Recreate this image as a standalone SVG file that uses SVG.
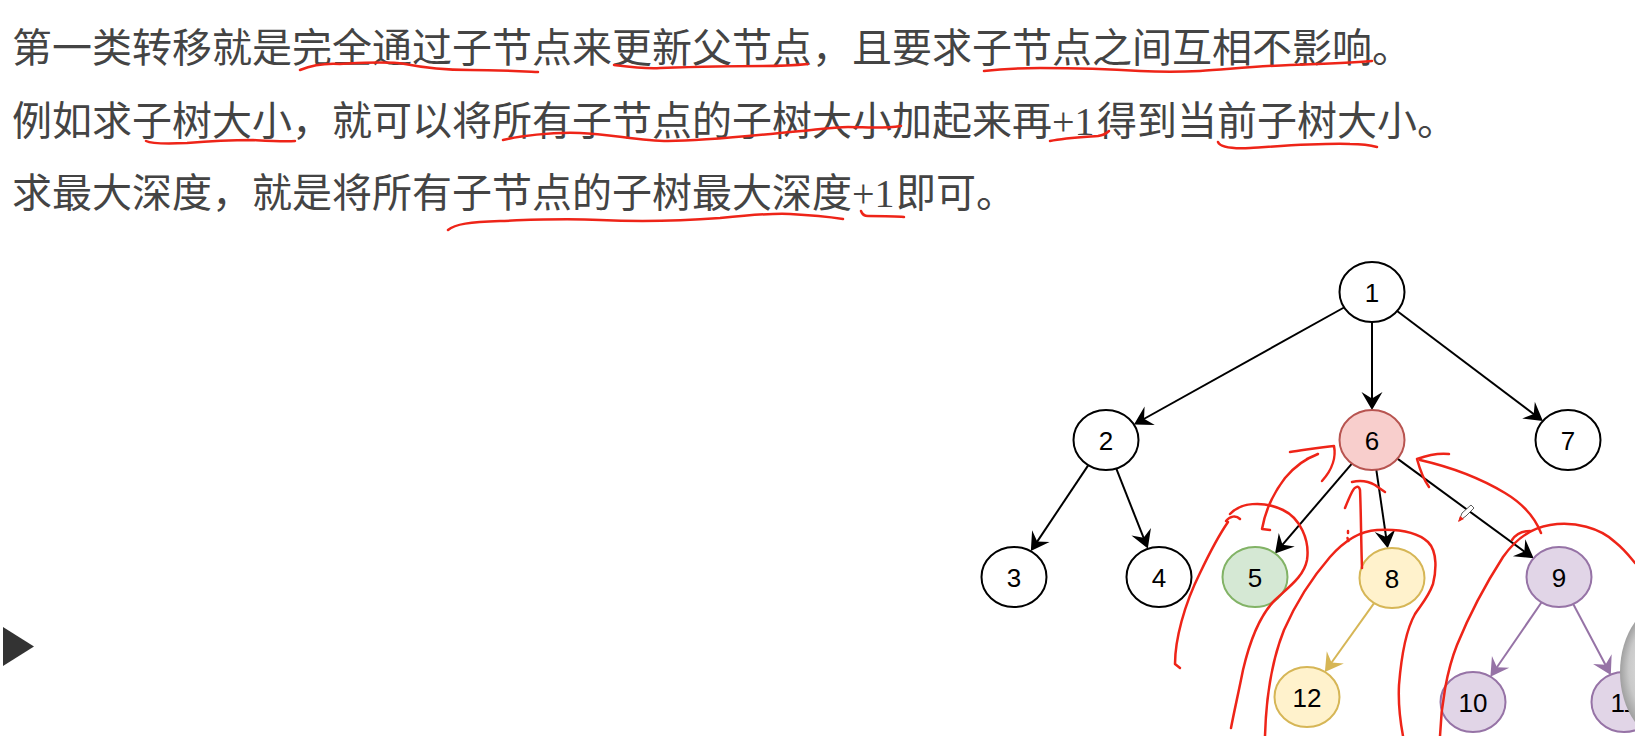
<svg xmlns="http://www.w3.org/2000/svg" width="1635" height="736" viewBox="0 0 1635 736">
<defs>
<style>
.txt{font-family:"Noto Sans CJK SC","Noto Sans CJK TC",sans-serif;font-size:40px;fill:#444}
.lat{font-family:"Liberation Serif",serif}
.node ellipse{stroke-width:2}
.lbl{font-family:"Liberation Sans",Arial,sans-serif;font-size:26px;fill:#000;text-anchor:middle}
.edge{fill:none;stroke-width:2}
.ink{fill:none;stroke:#ee2418;stroke-width:2.5;stroke-linecap:round;stroke-linejoin:round}
</style>
<marker id="ab" markerUnits="userSpaceOnUse" viewBox="-18 -12 24 24" markerWidth="24" markerHeight="24" refX="0" refY="0" orient="auto"><path d="M3,0 L-15,-10.5 L-8.5,0 L-15,10.5 Z" fill="#000"/></marker>
<marker id="ay" markerUnits="userSpaceOnUse" viewBox="-18 -12 24 24" markerWidth="24" markerHeight="24" refX="0" refY="0" orient="auto"><path d="M3,0 L-15,-10.5 L-8.5,0 L-15,10.5 Z" fill="#d6b656"/></marker>
<marker id="ap" markerUnits="userSpaceOnUse" viewBox="-18 -12 24 24" markerWidth="24" markerHeight="24" refX="0" refY="0" orient="auto"><path d="M3,0 L-15,-10.5 L-8.5,0 L-15,10.5 Z" fill="#9673a6"/></marker>
<radialGradient id="sph" cx="0.5" cy="0.5" r="0.5" fx="0.35" fy="0.4">
<stop offset="0" stop-color="#ececec"/>
<stop offset="0.75" stop-color="#c9c9c9"/>
<stop offset="1" stop-color="#a0a0a0"/>
</radialGradient>
</defs>
<rect width="1635" height="736" fill="#fff"/>

<g id="text">
<text class="txt" x="12" y="62">第一类转移就是完全通过子节点来更新父节点，且要求子节点之间互相不影响。</text>
<text class="txt" x="12" y="134.5">例如求子树大小，就可以将所有子节点的子树大小加起来再<tspan class="lat">+1</tspan><tspan x="1097">得到当前子树大小。</tspan></text>
<text class="txt" x="12" y="206.5">求最大深度，就是将所有子节点的子树最大深度<tspan class="lat">+1</tspan><tspan x="896">即可。</tspan></text>
</g>

<polygon id="play" points="3,627 34,646.5 3,666" fill="#333"/>

<g id="connectors">
<line class="edge" stroke="#000" x1="1344" y1="307.5" x2="1136.6" y2="423" marker-end="url(#ab)"/>
<line class="edge" stroke="#000" x1="1372" y1="322" x2="1372" y2="407" marker-end="url(#ab)"/>
<line class="edge" stroke="#000" x1="1397.1" y1="311" x2="1540.5" y2="419.2" marker-end="url(#ab)"/>
<line class="edge" stroke="#000" x1="1088" y1="465.6" x2="1032.5" y2="548.6" marker-end="url(#ab)"/>
<line class="edge" stroke="#000" x1="1116.1" y1="468.2" x2="1146.7" y2="545.7" marker-end="url(#ab)"/>
<line class="edge" stroke="#000" x1="1351.9" y1="463.6" x2="1277" y2="551.1" marker-end="url(#ab)"/>
<line class="edge" stroke="#000" x1="1376.3" y1="469.7" x2="1387.3" y2="545.3" marker-end="url(#ab)"/>
<line class="edge" stroke="#000" x1="1397.4" y1="458.6" x2="1531.2" y2="556.6" marker-end="url(#ab)"/>
<line class="edge" stroke="#d6b656" x1="1374.1" y1="603.1" x2="1326.6" y2="669.5" marker-end="url(#ay)"/>
<line class="edge" stroke="#9673a6" x1="1541.6" y1="602.3" x2="1492.1" y2="674.2" marker-end="url(#ap)"/>
<line class="edge" stroke="#9673a6" x1="1573.2" y1="604" x2="1609.4" y2="672.3" marker-end="url(#ap)"/>
</g>

<g id="n1" class="node"><ellipse cx="1372" cy="292" rx="32.5" ry="30" fill="#fff" stroke="#000"/><text class="lbl" x="1372" y="301.5">1</text></g>
<g id="n2" class="node"><ellipse cx="1106" cy="440" rx="32.5" ry="30" fill="#fff" stroke="#000"/><text class="lbl" x="1106" y="449.5">2</text></g>
<g id="n6" class="node"><ellipse cx="1372" cy="440" rx="32.5" ry="30" fill="#f8cecc" stroke="#b85450"/><text class="lbl" x="1372" y="449.5">6</text></g>
<g id="n7" class="node"><ellipse cx="1568" cy="440" rx="32.5" ry="30" fill="#fff" stroke="#000"/><text class="lbl" x="1568" y="449.5">7</text></g>
<g id="n3" class="node"><ellipse cx="1014" cy="577" rx="32.5" ry="30" fill="#fff" stroke="#000"/><text class="lbl" x="1014" y="586.5">3</text></g>
<g id="n4" class="node"><ellipse cx="1159" cy="577" rx="32.5" ry="30" fill="#fff" stroke="#000"/><text class="lbl" x="1159" y="586.5">4</text></g>
<g id="n5" class="node"><ellipse cx="1255" cy="577" rx="32.5" ry="30" fill="#d5e8d4" stroke="#82b366"/><text class="lbl" x="1255" y="586.5">5</text></g>
<g id="n8" class="node"><ellipse cx="1392" cy="578" rx="32.5" ry="30" fill="#fff2cc" stroke="#d6b656"/><text class="lbl" x="1392" y="587.5">8</text></g>
<g id="n9" class="node"><ellipse cx="1559" cy="577" rx="32.5" ry="30" fill="#e1d5e7" stroke="#9673a6"/><text class="lbl" x="1559" y="586.5">9</text></g>
<g id="n12" class="node"><ellipse cx="1307" cy="697" rx="32.5" ry="30" fill="#fff2cc" stroke="#d6b656"/><text class="lbl" x="1307" y="706.5">12</text></g>
<g id="n10" class="node"><ellipse cx="1473" cy="702" rx="32.5" ry="30" fill="#e1d5e7" stroke="#9673a6"/><text class="lbl" x="1473" y="711.5">10</text></g>
<g id="n11" class="node"><ellipse cx="1624" cy="702" rx="32.5" ry="30" fill="#e1d5e7" stroke="#9673a6"/><text class="lbl" x="1624" y="711.5">11</text></g>

<ellipse id="sphere" cx="1670" cy="672" rx="50" ry="70" fill="url(#sph)"/>

<g id="ink">
<path class="ink" d="M300,70 C310,66 325,63 340,64 C360,63 385,61 405,64 C420,67 440,70 470,70 C495,70 515,71 538,72"/>
<path class="ink" d="M614,65 C630,67 645,69 660,68 C690,67 730,66 763,66 C785,66 798,65 808,64"/>
<path class="ink" d="M984,71 C1000,69 1020,68 1040,68 C1080,68 1110,69 1140,71 C1160,72 1180,72 1200,71 C1230,69 1260,66 1290,65 C1320,64 1350,63 1372,61"/>
<path class="ink" d="M146,141 C152,144 165,144 187,143 C210,141 235,140 253,140 C270,141 285,142 295,141"/>
<path class="ink" d="M503,140 C520,136 550,132 580,133 C610,134 640,141 668,141 C700,141 740,137 780,133 C810,131 830,127 848,127 C865,127 880,129 901,126"/>
<path class="ink" d="M1050,141 C1065,138 1085,137 1098,136 C1104,135 1107,133 1109,131"/>
<path class="ink" d="M1218,142 C1220,147 1230,149 1250,148 C1280,146 1320,143 1350,144 C1362,144 1370,145 1377,147"/>
<path class="ink" d="M448,230 C455,224 470,222 500,221 C530,220 560,218 600,220 C640,222 680,221 720,218 C750,215 775,213 790,214 C810,215 830,217 843,219"/>
<path class="ink" d="M861,211 C862,214 864,216 868,216 C880,216 895,216 904,217"/>

<path class="ink" d="M1180,668 L1175,664 C1175,640 1184,605 1200,573 C1210,552 1219,535 1228,522 M1226,521 C1230,516 1236,515 1240,519"/>
<path class="ink" d="M1230,514 C1240,503 1262,500 1283,510 C1300,518 1310,540 1307,560 C1304,576 1290,586 1275,600 C1260,615 1250,640 1243,670 C1238,695 1234,712 1231,728"/>
<path class="ink" d="M1270,530 L1262,529 C1265,512 1272,495 1285,478 C1295,466 1307,458 1318,454 L1307,459"/>
<path class="ink" d="M1290,452 C1305,450 1322,447 1334,446 C1336,456 1333,469 1322,481"/>
<path class="ink" d="M1362,568 C1361,540 1361,510 1360,490 C1359,485 1355,486 1352,492 C1349,498 1347,503 1345,508"/>
<path class="ink" d="M1352,482 C1360,480 1368,481 1375,485 C1379,488 1382,490 1385,492"/>
<path class="ink" d="M1348,531 L1348,533 M1347.5,538 L1348.3,541"/>
<path class="ink" d="M1265,736 C1266,700 1272,660 1284,630 C1295,605 1310,580 1330,557 C1345,540 1360,531 1377,530 C1395,529 1415,530 1428,542 C1438,552 1436,572 1433,584 C1428,598 1420,606 1415,614 C1406,630 1401,660 1399,685 C1398,705 1400,720 1403,736"/>
<path class="ink" d="M1541,533 C1535,518 1525,505 1505,493 C1485,481 1455,468 1420,460"/>
<path class="ink" d="M1449,454 C1440,453 1428,455 1417,459 C1420,470 1424,480 1429,487"/>
<path class="ink" d="M1440,736 C1441,705 1447,670 1457,645 C1468,618 1485,585 1503,557 C1515,540 1530,528 1550,525 C1575,521 1600,528 1615,542 C1625,550 1630,557 1635,563"/>
<path class="ink" d="M1512,540 C1516,534 1522,531 1530,531"/>
</g>

<g id="cursor">
<path d="M1459,521 L1462,513 L1471,505 L1474,508 L1466,516 Z" fill="#fff" stroke="#333" stroke-width="0.8"/>
<path d="M1458,522 L1460,516 L1464,519 Z" fill="#ee2418"/>
</g>
</svg>
